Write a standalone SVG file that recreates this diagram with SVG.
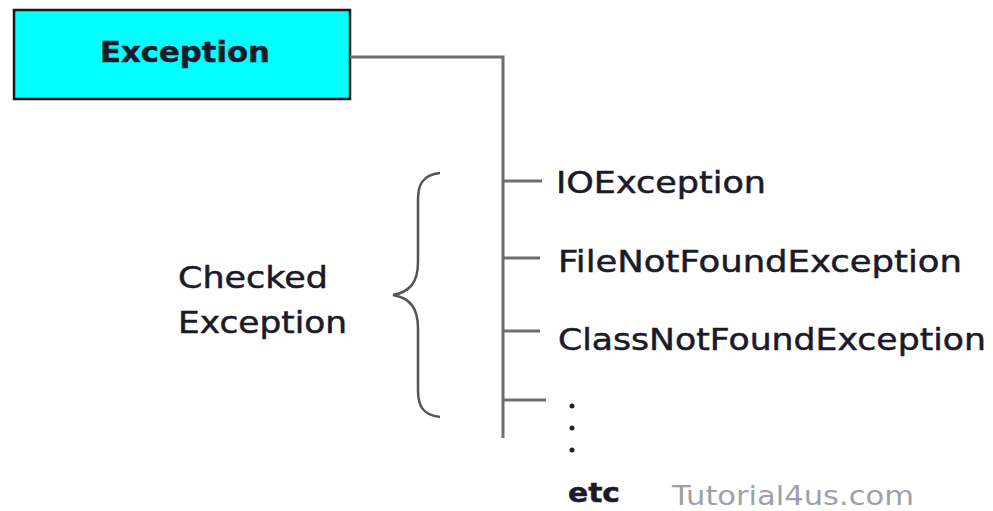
<svg xmlns="http://www.w3.org/2000/svg" width="993" height="511" viewBox="0 0 993 511">
<style>
.t{font-family:"DejaVu Sans","Liberation Sans",sans-serif;fill:#1a1a2a;stroke:#1a1a2a;stroke-width:0.5}
.ln{stroke:#6e6e6e;stroke-width:3;fill:none}
</style>
<rect width="993" height="511" fill="#fff"/>
<g id="exception">
<rect x="14" y="10" width="336" height="89" fill="#00ffff" stroke="#1a1a1a" stroke-width="2.5"/>
<text class="t" x="100" y="62" font-size="29" font-weight="bold" textLength="170" lengthAdjust="spacingAndGlyphs">Exception</text>
</g>
<g id="connectors">
<path class="ln" d="M350 57 H503 V438"/>
<path class="ln" d="M503 181 H542 M503 258 H540 M503 331 H540 M503 400 H546"/>
<path d="M440 173 C422 175 418 185 418 200 V262 C418 282 410 292 393 295 C410 298 418 308 418 328 V390 C418 405 422 415 440 417" fill="none" stroke="#555" stroke-width="2.5"/>
</g>
<g id="io"><text class="t" x="556" y="193" font-size="30" textLength="210" lengthAdjust="spacingAndGlyphs">IOException</text></g>
<g id="fnf"><text class="t" x="558" y="272" font-size="30" textLength="404" lengthAdjust="spacingAndGlyphs">FileNotFoundException</text></g>
<g id="cnf"><text class="t" x="558" y="350" font-size="30" textLength="428" lengthAdjust="spacingAndGlyphs">ClassNotFoundException</text></g>
<g id="checked">
<text class="t" x="178" y="288" font-size="30" textLength="150" lengthAdjust="spacingAndGlyphs">Checked</text>
<text class="t" x="178" y="333" font-size="30" textLength="169" lengthAdjust="spacingAndGlyphs">Exception</text>
</g>
<g id="etc">
<circle cx="572" cy="406" r="2.5" fill="#222"/>
<circle cx="572" cy="428" r="2.5" fill="#222"/>
<circle cx="572" cy="450" r="2.5" fill="#222"/>
<text class="t" x="568" y="502" font-size="27" font-weight="bold" textLength="52" lengthAdjust="spacingAndGlyphs">etc</text>
</g>
<text x="672" y="505" font-family="DejaVu Sans, sans-serif" font-size="26" fill="#a0a0a8" textLength="242" lengthAdjust="spacingAndGlyphs">Tutorial4us.com</text>
</svg>
